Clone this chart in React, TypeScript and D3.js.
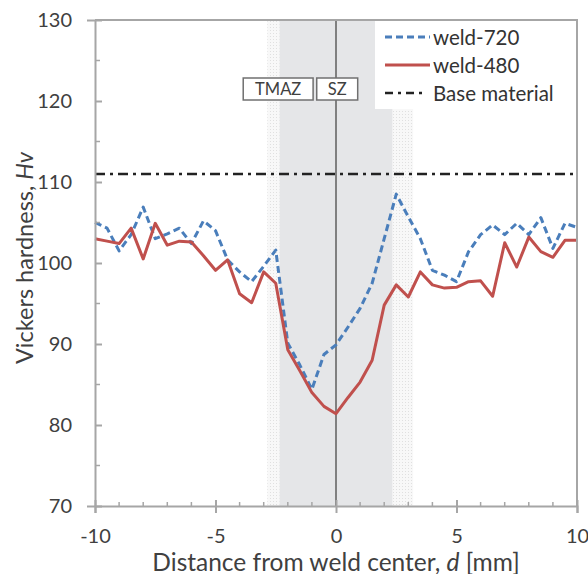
import React, { useRef, useEffect } from 'react';
import * as d3 from 'd3';

// distance from weld center [mm], 0.5 mm step
const distances: number[] = d3.range(-10, 10.001, 0.5).map((d) => +d.toFixed(1));

const weld720: number[] = [
  105.0, 104.3, 101.5, 103.5, 106.9, 103.0, 103.6, 104.3, 102.4, 105.2,
  104.0, 100.4, 98.9, 97.7, 99.6, 101.6, 90.1, 87.4, 84.4, 88.7,
  89.9, 92.1, 94.4, 97.5, 103.0, 108.5, 105.7, 103.0, 99.1, 98.5,
  97.7, 101.4, 103.5, 104.7, 103.5, 104.9, 103.5, 105.6, 101.8, 104.9, 104.4,
];

const weld480: number[] = [
  103.0, 102.7, 102.4, 104.3, 100.5, 104.9, 102.2, 102.7, 102.6, 100.9,
  99.1, 100.4, 96.2, 95.1, 98.9, 97.5, 89.3, 86.7, 84.0, 82.3,
  81.4, 83.4, 85.3, 88.0, 94.8, 97.3, 95.8, 98.9, 97.3, 96.9,
  97.0, 97.7, 97.8, 95.9, 102.5, 99.5, 103.2, 101.4, 100.7, 102.8, 102.8,
];

const baseMaterial = 111.0;

// zones [mm]
const szZone: [number, number] = [-2.35, 2.35];
const tmazLeft: [number, number] = [-2.85, -2.35];
const tmazRight: [number, number] = [2.35, 3.2];

const xTicks = [-10, -5, 0, 5, 10];
const yTicks = [70, 80, 90, 100, 110, 120, 130];

const legendItems = [
  { label: 'weld-720', color: '#4a7ebb', dash: '7,4', len: 45, w: 3 },
  { label: 'weld-480', color: '#c0504d', dash: null, len: 45, w: 3 },
  { label: 'Base material', color: '#222', dash: '8,5,3,5', len: 37, w: 2.5 },
];

const FONT = 'Lato, "Open Sans", sans-serif';

const App = () => {
  const svgRef = useRef<SVGSVGElement>(null);

  useEffect(() => {
    const svg = d3.select(svgRef.current);
    svg.selectAll('*').remove();

    const width = 588;
    const height = 574;
    const margin = { top: 20, right: 11, bottom: 68, left: 95 };

    const x = d3.scaleLinear().domain([-10, 10]).range([margin.left, width - margin.right]);
    const y = d3.scaleLinear().domain([70, 130]).range([height - margin.bottom, margin.top]);

    const axisColor = '#a6a6a6';
    const textColor = '#404040';

    // stipple pattern for the zone borders
    const defs = svg.append('defs');
    const pat = defs.append('pattern')
      .attr('id', 'stipple')
      .attr('width', 3).attr('height', 3)
      .attr('patternUnits', 'userSpaceOnUse');
    pat.append('rect').attr('width', 3).attr('height', 3).attr('fill', '#f8f8f8');
    pat.append('rect').attr('width', 1).attr('height', 1).attr('fill', '#e0e0e0');

    // zones
    svg.append('rect')
      .attr('x', x(szZone[0])).attr('y', y(130))
      .attr('width', x(szZone[1]) - x(szZone[0]))
      .attr('height', y(70) - y(130))
      .attr('fill', '#e5e6e8');
    [tmazLeft, tmazRight].forEach((z) => {
      svg.append('rect')
        .attr('x', x(z[0])).attr('y', y(130))
        .attr('width', x(z[1]) - x(z[0]))
        .attr('height', y(70) - y(130))
        .attr('fill', 'url(#stipple)');
    });

    // weld center line
    svg.append('line')
      .attr('x1', x(0)).attr('x2', x(0))
      .attr('y1', y(130)).attr('y2', y(70))
      .attr('stroke', '#808080').attr('stroke-width', 2);

    // base material
    svg.append('line')
      .attr('x1', x(-10)).attr('x2', x(10))
      .attr('y1', y(baseMaterial)).attr('y2', y(baseMaterial))
      .attr('stroke', '#222').attr('stroke-width', 2.5)
      .attr('stroke-dasharray', '10,5,3,5');

    const line = d3.line<number>()
      .x((_, i) => x(distances[i]))
      .y((d) => y(d));

    svg.append('path')
      .datum(weld720)
      .attr('fill', 'none')
      .attr('stroke', '#4a7ebb')
      .attr('stroke-width', 3)
      .attr('stroke-dasharray', '7,4')
      .attr('stroke-linejoin', 'round')
      .attr('d', line);

    svg.append('path')
      .datum(weld480)
      .attr('fill', 'none')
      .attr('stroke', '#c0504d')
      .attr('stroke-width', 3)
      .attr('stroke-linejoin', 'round')
      .attr('d', line);

    // zone labels
    const boxes = [
      { label: 'TMAZ', x0: -3.85, x1: -0.95 },
      { label: 'SZ', x0: -0.8, x1: 0.9 },
    ];
    boxes.forEach((b) => {
      svg.append('rect')
        .attr('x', x(b.x0)).attr('y', 78)
        .attr('width', x(b.x1) - x(b.x0)).attr('height', 22)
        .attr('fill', '#fff').attr('stroke', '#707070').attr('stroke-width', 1.5);
      svg.append('text')
        .attr('x', (x(b.x0) + x(b.x1)) / 2).attr('y', 89)
        .attr('text-anchor', 'middle').attr('dominant-baseline', 'central')
        .attr('font-family', FONT).attr('font-size', 16.5)
        .attr('fill', textColor)
        .text(b.label);
    });

    // axes
    const xAxis = svg.append('g')
      .attr('transform', `translate(0,${y(70)})`)
      .call(d3.axisBottom(x).tickValues(xTicks).tickSize(7).tickPadding(16).tickFormat((d) => String(d)));
    xAxis.select('.domain').attr('stroke', axisColor).attr('stroke-width', 2);
    xAxis.selectAll('.tick line').attr('y1', -6).attr('stroke', axisColor).attr('stroke-width', 2);
    xAxis.selectAll('.tick text')
      .attr('font-family', FONT).attr('font-size', 20).attr('fill', textColor);

    const yAxis = svg.append('g')
      .attr('transform', `translate(${x(-10)},0)`)
      .call(d3.axisLeft(y).tickValues(yTicks).tickSize(8).tickPadding(15));
    yAxis.select('.domain').attr('stroke', axisColor).attr('stroke-width', 2);
    yAxis.selectAll('.tick line').attr('x2', 7).attr('stroke', axisColor).attr('stroke-width', 2);
    yAxis.selectAll('.tick text')
      .attr('font-family', FONT).attr('font-size', 20).attr('fill', textColor);

    // minor ticks
    d3.range(-9, 10, 1).filter((v) => v % 5 !== 0).forEach((v) => {
      svg.append('line')
        .attr('x1', x(v)).attr('x2', x(v))
        .attr('y1', y(70)).attr('y2', y(70) - 4)
        .attr('stroke', axisColor).attr('stroke-width', 1.5);
    });
    d3.range(75, 130, 10).forEach((v) => {
      svg.append('line')
        .attr('x1', x(-10)).attr('x2', x(-10) + 5)
        .attr('y1', y(v)).attr('y2', y(v))
        .attr('stroke', axisColor).attr('stroke-width', 1.5);
    });

    // top and right frame
    svg.append('path')
      .attr('d', `M${x(-10)},${y(130)}H${x(10)}V${y(70)}`)
      .attr('fill', 'none').attr('stroke', axisColor).attr('stroke-width', 2);

    // legend
    const lg = svg.append('g');
    lg.append('rect')
      .attr('x', 375).attr('y', y(130) + 1)
      .attr('width', x(10) - 376).attr('height', 88)
      .attr('fill', '#fff');
    legendItems.forEach((it, i) => {
      const cy = 37 + i * 28;
      lg.append('line')
        .attr('x1', 385).attr('x2', 385 + it.len)
        .attr('y1', cy).attr('y2', cy)
        .attr('stroke', it.color)
        .attr('stroke-width', it.w)
        .attr('stroke-dasharray', it.dash);
      lg.append('text')
        .attr('x', 433).attr('y', cy)
        .attr('dominant-baseline', 'central')
        .attr('font-family', FONT).attr('font-size', 20.5)
        .attr('fill', '#333')
        .text(it.label);
    });

    // axis titles
    const xt = svg.append('text')
      .attr('x', (x(-10) + x(10)) / 2).attr('y', 561)
      .attr('text-anchor', 'middle').attr('dominant-baseline', 'central')
      .attr('font-family', FONT).attr('font-size', 24.5).attr('fill', textColor);
    xt.append('tspan').text('Distance from weld center, ');
    xt.append('tspan').attr('font-style', 'italic').text('d');
    xt.append('tspan').text(' [mm]');

    const yt = svg.append('text')
      .attr('transform', `translate(24,258) rotate(-90)`)
      .attr('text-anchor', 'middle').attr('dominant-baseline', 'central')
      .attr('font-family', FONT).attr('font-size', 23.5).attr('fill', textColor);
    yt.append('tspan').text('Vickers hardness, ');
    yt.append('tspan').attr('font-style', 'italic').text('Hv');
  }, []);

  return (
    <svg ref={svgRef} width="588" height="574" style={{ position: 'absolute', left: 0, top: 0 }}></svg>
  );
};

export default App;
